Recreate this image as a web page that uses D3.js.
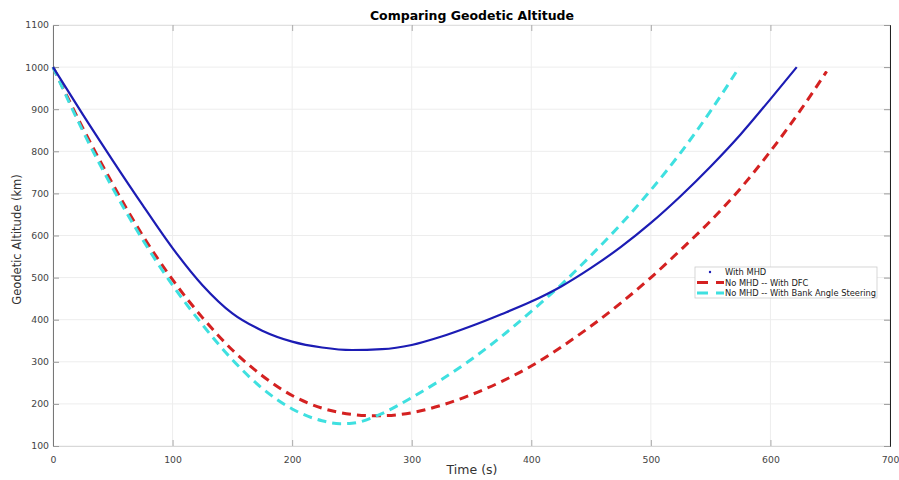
<!DOCTYPE html>
<html lang="en">
<head>
<meta charset="utf-8">
<title>Comparing Geodetic Altitude</title>
<script src="https://cdn.jsdelivr.net/npm/d3@7"></script>
<style>
  body { margin: 0; background: #fff; }
  text { font-family: "DejaVu Sans", sans-serif; }
  .tick text { fill: #444; font-size: 9.3px; }
</style>
</head>
<body>
<script>
// data (time in s, altitude in km)
var seriesNames = ["With MHD", "No MHD -- With DFC", "No MHD -- With Bank Angle Steering"];

var mhdTime = [0, 25, 50, 75, 100, 125, 150, 175, 200, 225, 250, 275, 300, 325, 350, 375, 400, 425, 450, 475, 500, 525, 550, 575, 600, 622];
var mhdAlt  = [1000, 887, 778, 672, 570, 482, 415, 374, 348, 334, 328, 330, 340, 360, 385, 413, 443, 479, 523, 573, 630, 694, 764, 840, 924, 1000];

var dfcTime = [0, 25, 50, 75, 100, 125, 150, 175, 200, 225, 250, 265, 275, 300, 325, 350, 375, 400, 425, 450, 475, 500, 525, 550, 575, 600, 625, 647];
var dfcAlt  = [1000, 855, 722, 600, 495, 405, 328, 267, 220, 190, 175, 172, 172, 179, 197, 222, 253, 290, 335, 385, 440, 500, 566, 635, 712, 800, 897, 990];

var bankTime = [0, 25, 50, 75, 100, 125, 150, 175, 200, 225, 240, 250, 275, 300, 325, 350, 375, 400, 425, 450, 475, 500, 525, 550, 574];
var bankAlt  = [1000, 848, 712, 590, 482, 388, 305, 237, 188, 160, 153, 154, 177, 215, 258, 306, 360, 420, 483, 553, 627, 708, 797, 896, 1000];

var xTicks = [0, 100, 200, 300, 400, 500, 600, 700];
var yTicks = [100, 200, 300, 400, 500, 600, 700, 800, 900, 1000, 1100];

var width = 899, height = 480;
var plotL = 53, plotR = 890, plotT = 25, plotB = 446;

var svg = d3.select("body").append("svg")
    .attr("width", width)
    .attr("height", height);

var x = d3.scaleLinear().domain([0, 700]).range([plotL, plotR]);
var y = d3.scaleLinear().domain([100, 1100]).range([plotB, plotT]);

// grid
svg.append("g")
    .selectAll("line")
    .data(xTicks)
    .enter().append("line")
    .attr("x1", d => x(d)).attr("x2", d => x(d))
    .attr("y1", plotT).attr("y2", plotB)
    .attr("stroke", "#ededed").attr("stroke-width", 1);

svg.append("g")
    .selectAll("line")
    .data(yTicks)
    .enter().append("line")
    .attr("x1", plotL).attr("x2", plotR)
    .attr("y1", d => y(d)).attr("y2", d => y(d))
    .attr("stroke", "#ededed").attr("stroke-width", 1);

// axes
var xAxis = svg.append("g")
    .attr("transform", "translate(0," + plotB + ")")
    .call(d3.axisBottom(x).tickValues(xTicks).tickSize(-6).tickPadding(10));
xAxis.select(".domain").attr("stroke", "#d8d8d8");
xAxis.selectAll(".tick line").attr("stroke", "#aaa");

var xTop = svg.append("g")
    .attr("transform", "translate(0," + plotT + ")")
    .call(d3.axisTop(x).tickValues(xTicks).tickSize(-6).tickFormat(""));
xTop.select(".domain").attr("stroke", "#e0e0e0");
xTop.selectAll(".tick line").attr("stroke", "#aaa");

var yAxis = svg.append("g")
    .attr("transform", "translate(" + plotL + ",0)")
    .call(d3.axisLeft(y).tickValues(yTicks).tickSize(-6).tickPadding(4).tickFormat(d3.format("d")));
yAxis.select(".domain").attr("stroke", "#777");
yAxis.selectAll(".tick line").attr("stroke", "#999");

var yRight = svg.append("g")
    .attr("transform", "translate(" + plotR + ",0)")
    .call(d3.axisRight(y).tickValues(yTicks).tickSize(-6).tickFormat(""));
yRight.select(".domain").attr("stroke", "#222");
yRight.selectAll(".tick line").attr("stroke", "#999");

// lines
var line = d3.line()
    .x(d => x(d[0]))
    .y(d => y(d[1]))
    .curve(d3.curveMonotoneX);

var series = [
  { t: dfcTime, v: dfcAlt, color: "#d42121", width: 3, dash: "9,6" },
  { t: bankTime, v: bankAlt, color: "#3fe0e0", width: 3, dash: "9,6" },
  { t: mhdTime, v: mhdAlt, color: "#1c1cb4", width: 2.2, dash: null }
];

series.forEach(function(s) {
  svg.append("path")
     .datum(d3.zip(s.t, s.v))
     .attr("fill", "none")
     .attr("stroke", s.color)
     .attr("stroke-width", s.width)
     .attr("stroke-dasharray", s.dash)
     .attr("d", line);
});

// title & labels
svg.append("text")
   .attr("x", 472).attr("y", 20)
   .attr("text-anchor", "middle")
   .style("font-weight", "bold")
   .style("font-size", "12.5px")
   .text("Comparing Geodetic Altitude");

svg.append("text")
   .attr("x", 472).attr("y", 474)
   .attr("text-anchor", "middle")
   .style("font-size", "12.5px")
   .attr("fill", "#333")
   .text("Time (s)");

svg.append("text")
   .attr("transform", "translate(21," + ((plotT + plotB) / 2 + 4) + ") rotate(-90)")
   .attr("text-anchor", "middle")
   .style("font-size", "11.5px")
   .attr("fill", "#333")
   .text("Geodetic Altitude (km)");

// legend
var lg = svg.append("g").attr("transform", "translate(695,267)");
lg.append("rect")
  .attr("width", 182).attr("height", 31)
  .attr("fill", "#fff").attr("stroke", "#ccc").attr("stroke-width", 0.8);

var legendItems = [
  { name: seriesNames[0], color: "#1c1cb4", dot: true },
  { name: seriesNames[1], color: "#d42121", dot: false },
  { name: seriesNames[2], color: "#3fe0e0", dot: false }
];

legendItems.forEach(function(d, i) {
  var yy = 5 + i * 10.5;
  if (d.dot) {
    lg.append("circle").attr("cx", 15).attr("cy", yy).attr("r", 1.2).attr("fill", d.color);
  } else {
    lg.append("line")
      .attr("x1", 2).attr("x2", 29).attr("y1", yy).attr("y2", yy)
      .attr("stroke", d.color).attr("stroke-width", 3)
      .attr("stroke-dasharray", "11,8");
  }
  lg.append("text")
    .attr("x", 30).attr("y", yy + 3)
    .style("font-size", "8.3px")
    .attr("fill", "#222")
    .text(d.name);
});
</script>
</body>
</html>
